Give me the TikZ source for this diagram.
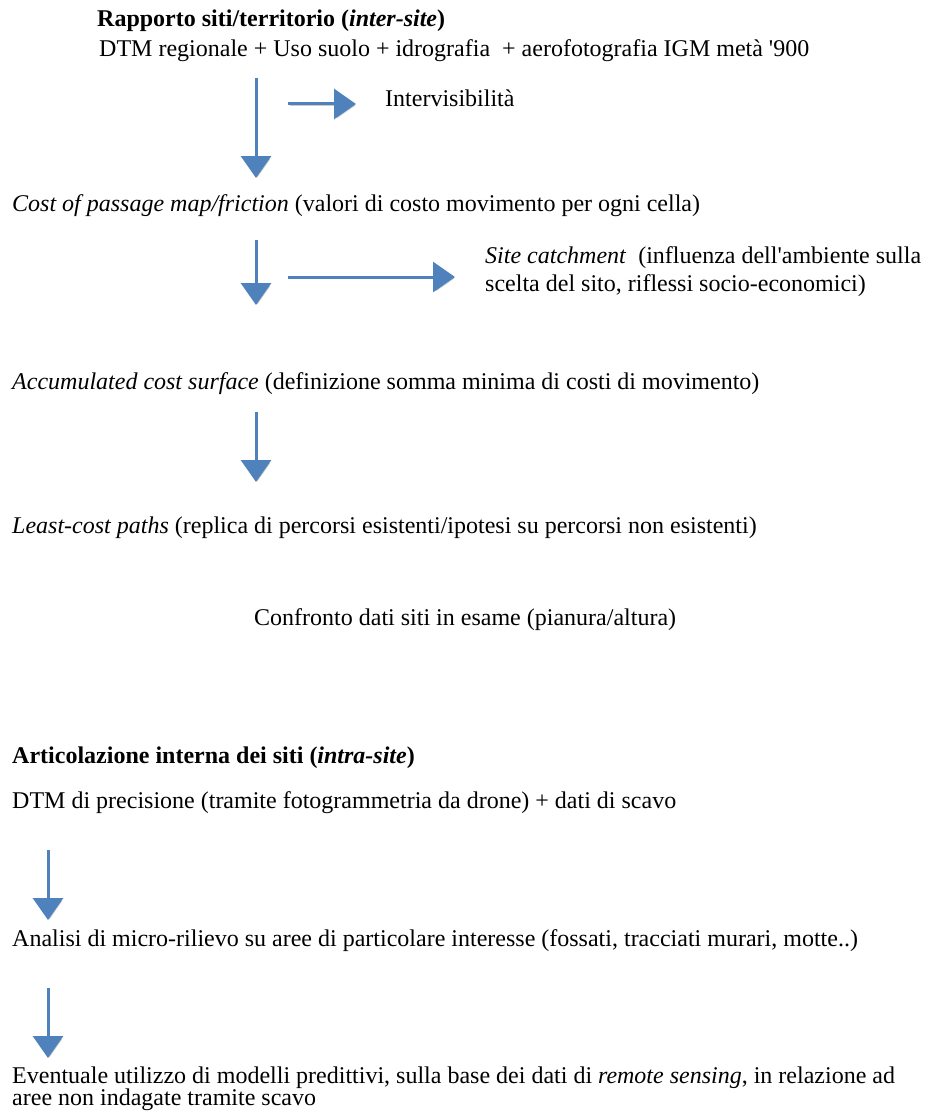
\documentclass[tikz,border=0pt]{standalone}
\usepackage{fontspec}
\setmainfont{Liberation Serif}
\usetikzlibrary{arrows.meta}
\definecolor{flowblue}{RGB}{79,129,189}
\tikzset{
  txt/.style={anchor=west,inner sep=0pt,align=left,font=\fontsize{24}{24}\selectfont},
  flow/.style={flowblue,line width=3pt,-{Triangle[width=30pt,length=22pt]},
    preaction={draw=black!20,transform canvas={shift={(1.5pt,-1.5pt)}}}},
}
\begin{document}
\begin{tikzpicture}[x=1pt,y=-1pt]
\useasboundingbox (0,0) rectangle (931,1113);

\node[txt] (inter) at (97,21) {\textbf{Rapporto siti/territorio (\textit{inter-site})}};
\node[txt] (dtm) at (99,51) {DTM regionale + Uso suolo + idrografia \ + aerofotografia IGM metà \textquotesingle 900};
\node[txt] (intervis) at (385,98) {Intervisibilità};
\node[txt] (cost) at (12,206) {\textit{Cost of passage map/friction} (valori di costo movimento per ogni cella)};
\node[txt,font=\fontsize{24}{28}\selectfont] (catch) at (485,272) {\textit{Site catchment} \ (influenza dell\textquotesingle ambiente sulla\\scelta del sito, riflessi socio-economici)};
\node[txt] (accum) at (12,384) {\textit{Accumulated cost surface} (definizione somma minima di costi di movimento)};
\node[txt] (least) at (12,528) {\textit{Least-cost paths} (replica di percorsi esistenti/ipotesi su percorsi non esistenti)};
\node[txt] (confr) at (254,620) {Confronto dati siti in esame (pianura/altura)};

\node[txt] (intra) at (12,758) {\textbf{Articolazione interna dei siti (\textit{intra-site})}};
\node[txt] (prec) at (12,803) {DTM di precisione (tramite fotogrammetria da drone) + dati di scavo};
\node[txt] (micro) at (12,941) {Analisi di micro-rilievo su aree di particolare interesse (fossati, tracciati murari, motte..)};
\node[txt,font=\fontsize{24}{22}\selectfont] (model) at (12,1089) {Eventuale utilizzo di modelli predittivi, sulla base dei dati di \textit{remote sensing}, in relazione ad\\aree non indagate tramite scavo};

\coordinate (a1s) at (256,78);  \coordinate (a1e) at (256,178);
\coordinate (h1s) at (288,104); \coordinate (h1e) at (356,104);
\coordinate (a2s) at (256,240); \coordinate (a2e) at (256,305);
\coordinate (h2s) at (288,277); \coordinate (h2e) at (455,277);
\coordinate (a3s) at (256,412); \coordinate (a3e) at (256,482);
\coordinate (a4s) at (48,850);  \coordinate (a4e) at (48,920);
\coordinate (a5s) at (48,988);  \coordinate (a5e) at (48,1058);

\draw[flow] (a1s) -- (a1e);
\draw[flow] (h1s) -- (h1e);
\draw[flow] (a2s) -- (a2e);
\draw[flow] (h2s) -- (h2e);
\draw[flow] (a3s) -- (a3e);
\draw[flow] (a4s) -- (a4e);
\draw[flow] (a5s) -- (a5e);

\end{tikzpicture}
\end{document}
